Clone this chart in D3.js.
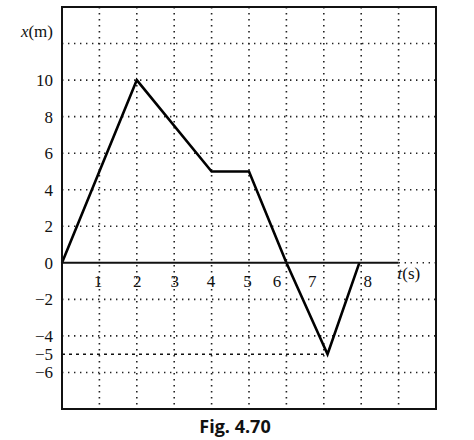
<!DOCTYPE html>
<html>
  <head>
    <meta charset="utf-8">
    <title>Fig. 4.70</title>
    <script src="https://d3js.org/d3.v7.min.js"></script>
    <style>
      body { margin: 0; background: #fff; }
      svg { display: block; }
      .grid { stroke: #222; stroke-width: 1.6; stroke-dasharray: 1.4 4.6; fill: none; }
      .dash5 { stroke: #111; stroke-width: 1.6; stroke-dasharray: 3 4; fill: none; }
      .frame { stroke: #111; stroke-width: 2; fill: none; }
      .motion { stroke: #000; stroke-width: 2.6; fill: none; stroke-linejoin: miter; }
      .caption { font-family: "Open Sans", "Noto Sans", sans-serif; font-weight: bold; font-size: 18px; fill: #111; }
    </style>
  </head>
  <body>
    <svg id="chart" width="474" height="440">
      <g id="gridGroup"></g>
      <g id="lineGroup"></g>
      <g id="xAxisGroup"></g>
      <g id="yAxisGroup"></g>
    </svg>
    <script>
      // position-time data (s, m)
      var times = [0, 2, 4, 5, 6, 7.1, 7.95];
      var positions = [0, 10, 5, 5, 0, -5, 0];
      var xTicks = [1, 2, 3, 4, 5, 6, 7, 8];
      var yTicks = [10, 8, 6, 4, 2, 0, -2, -4, -5, -6];
      var vGrid = [1, 2, 3, 4, 5, 6, 7, 8, 9];
      var hGrid = [12, 10, 8, 6, 4, 2, -2, -4, -6];
      // label nudges so the numbers sit clear of the line
      var xLabelShift = [-2, 0, 0, -1, -2, -10, -12, 6];

      var serif = "'Liberation Serif', 'Times New Roman', 'DejaVu Serif', serif";
      var margin = { top: 7, right: 38, bottom: 31, left: 62 };
      var width = 474, height = 440;
      var svg = d3.select("#chart");

      var x = d3.scaleLinear().domain([0, 10]).range([margin.left, width - margin.right]);
      var y = d3.scaleLinear().domain([-8, 14]).range([height - margin.bottom, margin.top]);

      var grid = d3.select("#gridGroup");
      grid.selectAll(".v").data(vGrid).enter().append("line")
        .attr("class", "grid")
        .attr("x1", function(d) { return x(d); }).attr("x2", function(d) { return x(d); })
        .attr("y1", y(14)).attr("y2", y(-8));
      grid.selectAll(".h").data(hGrid).enter().append("line")
        .attr("class", "grid")
        .attr("x1", x(0)).attr("x2", x(10))
        .attr("y1", function(d) { return y(d); }).attr("y2", function(d) { return y(d); });
      // dotted tail of the time axis past t = 9
      grid.append("line").attr("class", "grid")
        .attr("x1", x(9)).attr("x2", x(10)).attr("y1", y(0)).attr("y2", y(0));
      // dashed guide at x = -5 up to the minimum
      grid.append("line").attr("class", "dash5")
        .attr("x1", x(0)).attr("x2", x(times[5])).attr("y1", y(-5)).attr("y2", y(-5));

      // frame and time axis
      svg.append("rect").attr("class", "frame")
        .attr("x", x(0)).attr("y", y(14))
        .attr("width", x(10) - x(0)).attr("height", y(-8) - y(14));
      svg.append("line").attr("stroke", "#111").attr("stroke-width", 2)
        .attr("x1", x(0)).attr("x2", x(9)).attr("y1", y(0)).attr("y2", y(0));

      var pts = times.map(function(t, i) { return [t, positions[i]]; });
      var line = d3.line().x(function(d) { return x(d[0]); }).y(function(d) { return y(d[1]); });
      d3.select("#lineGroup").append("path").attr("class", "motion").attr("d", line(pts));

      var fmt = function(d) { return d < 0 ? "\u2212" + Math.abs(d) : String(d); };

      var xAxis = d3.axisBottom(x).tickValues(xTicks).tickSize(0).tickPadding(12);
      d3.select("#xAxisGroup").attr("transform", "translate(0," + y(0) + ")").call(xAxis)
        .attr("font-family", serif).attr("font-size", 17)
        .call(function(g) { g.select(".domain").remove(); });
      d3.select("#xAxisGroup").selectAll(".tick text").attr("fill", "#111")
        .attr("dx", function(d, i) { return xLabelShift[i]; });

      var yAxis = d3.axisLeft(y).tickValues(yTicks).tickSize(0).tickPadding(9).tickFormat(fmt);
      d3.select("#yAxisGroup").attr("transform", "translate(" + x(0) + ",0)").call(yAxis)
        .attr("font-family", serif).attr("font-size", 17)
        .call(function(g) { g.select(".domain").remove(); });
      d3.select("#yAxisGroup").selectAll(".tick text").attr("fill", "#111");

      // axis titles
      var yt = svg.append("text").attr("font-family", serif).attr("font-size", 17).attr("fill", "#111")
        .attr("x", x(0) - 9).attr("y", y(12.7)).attr("dy", "0.35em").attr("text-anchor", "end");
      yt.append("tspan").attr("font-style", "italic").text("x");
      yt.append("tspan").text("(m)");
      var xt = svg.append("text").attr("font-family", serif).attr("font-size", 17).attr("fill", "#111")
        .attr("x", x(9) - 1).attr("y", y(0) + 10).attr("dy", "0.35em");
      xt.append("tspan").attr("font-style", "italic").text("t");
      xt.append("tspan").text("(s)");

      svg.append("text").attr("class", "caption")
        .attr("x", 235).attr("y", 433).attr("text-anchor", "middle").text("Fig. 4.70");
    </script>
  </body>
</html>
